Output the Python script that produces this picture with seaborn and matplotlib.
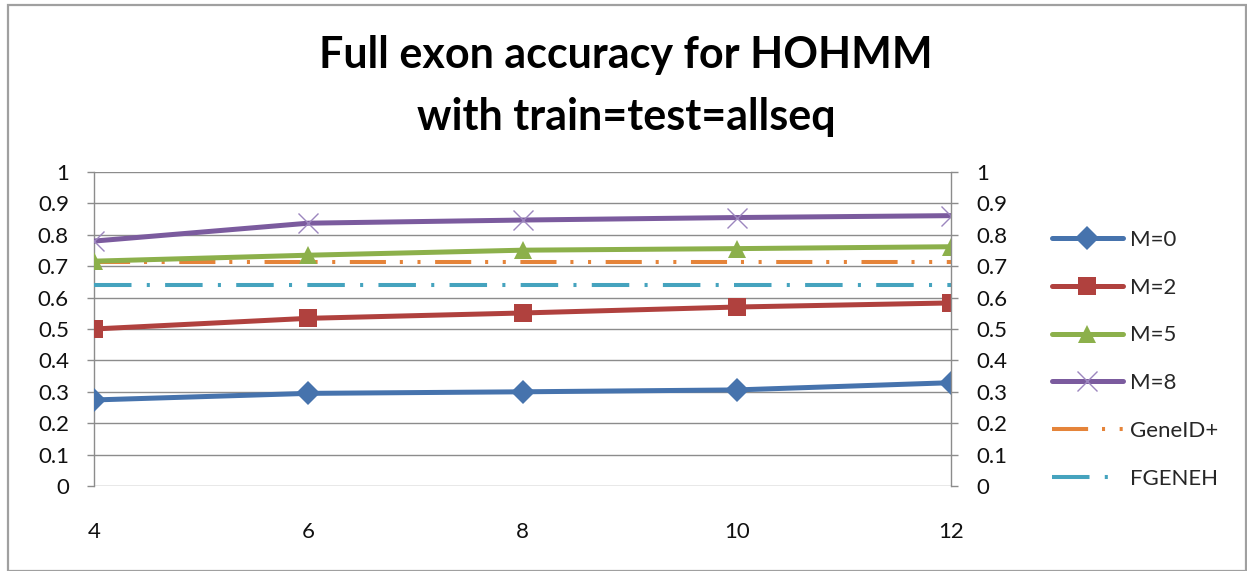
import matplotlib
matplotlib.use("Agg")
import matplotlib.pyplot as plt
import seaborn as sns
import pandas as pd
from matplotlib.patches import Rectangle

# Model order (x axis)
orders = [4, 6, 8, 10, 12]

# Full exon accuracy per memory length M
m0 = [0.274, 0.295, 0.300, 0.306, 0.329]
m2 = [0.500, 0.534, 0.551, 0.570, 0.583]
m5 = [0.716, 0.735, 0.751, 0.756, 0.762]
m8 = [0.780, 0.837, 0.847, 0.855, 0.861]

# Reference gene finders (constant across orders)
geneid_plus = [0.712, 0.712, 0.712, 0.712, 0.712]
fgeneh = [0.639, 0.639, 0.639, 0.639, 0.639]

yticks = [0, 0.1, 0.2, 0.3, 0.4, 0.5, 0.6, 0.7, 0.8, 0.9, 1]
ytick_labels = ["0", "0.1", "0.2", "0.3", "0.4", "0.5", "0.6", "0.7", "0.8", "0.9", "1"]

sns.set_theme(style="white")
plt.rcParams["font.family"] = ["Lato", "DejaVu Sans"]
plt.rcParams["lines.scale_dashes"] = False

fig = plt.figure(figsize=(12.47, 5.71), dpi=100)
ax = fig.add_axes([94 / 1247, 1 - 486 / 571, (951 - 94) / 1247, (486 - 172) / 571])

df = pd.DataFrame({"order": orders})

series = [
    ("M=0", m0, "#4673AD", "D", 12, dict()),
    ("M=2", m2, "#B0413E", "s", 13, dict()),
    ("M=5", m5, "#8CB04B", "^", 13, dict()),
    ("M=8", m8, "#7B5B9E", "x", 14, dict(markeredgewidth=1.0, markeredgecolor="#9C86BE")),
]

for name, vals, color, marker, ms, extra in series:
    d = df.assign(value=vals)
    sns.lineplot(data=d, x="order", y="value", ax=ax, color=color, linewidth=3.6,
                 marker=marker, markersize=ms, markeredgewidth=extra.get("markeredgewidth", 0),
                 markeredgecolor=extra.get("markeredgecolor", color),
                 label=name, zorder=4)

# dash patterns in points: long dash dot dot / long dash dot
sns.lineplot(data=df.assign(value=geneid_plus), x="order", y="value", ax=ax,
             color="#E5843A", linewidth=2.9, label="GeneID+",
             linestyle=(0, (26, 10, 2.2, 10.5, 2.2, 10.5)), dash_capstyle="butt", zorder=3)
sns.lineplot(data=df.assign(value=fgeneh), x="order", y="value", ax=ax,
             color="#45A3BE", linewidth=2.9, label="FGENEH",
             linestyle=(0, (27, 11, 2.2, 11)), dash_capstyle="butt", zorder=3)

ax.set_xlim(4, 12)
ax.set_ylim(0, 1)
ax.set_xticks(orders)
ax.set_xticklabels([str(o) for o in orders])
ax.set_yticks(yticks)
ax.set_yticklabels(ytick_labels)
ax.set_xlabel("")
ax.set_ylabel("")
ax.grid(axis="y", color="#8C8C8C", linewidth=1.0)
ax.grid(axis="x", visible=False)
for side in ["top", "right", "bottom"]:
    ax.spines[side].set_visible(False)
ax.spines["left"].set_color("#8C8C8C")
ax.spines["left"].set_linewidth(1.0)
ax.tick_params(axis="y", which="major", length=5, width=1.0, color="#8C8C8C",
               direction="out", pad=13, labelsize=16, labelcolor="#111111", left=True)
ax.tick_params(axis="x", which="major", length=0, pad=26, labelsize=16, labelcolor="#111111")
# small tick marks below the axis at every other category
ax.set_xticks([4, 8, 12], minor=True)
ax.tick_params(axis="x", which="minor", length=6, width=1.0, color="#8C8C8C",
               direction="out", bottom=True)

ax2 = ax.twinx()
ax2.set_ylim(0, 1)
ax2.set_yticks(yticks)
ax2.set_yticklabels(ytick_labels)
for side in ["top", "left", "bottom"]:
    ax2.spines[side].set_visible(False)
ax2.spines["right"].set_color("#8C8C8C")
ax2.spines["right"].set_linewidth(1.0)
ax2.tick_params(axis="y", length=5, width=1.0, color="#8C8C8C", direction="out",
                pad=13, labelsize=16, labelcolor="#111111", right=True)
ax2.grid(False)

handles, labels = ax.get_legend_handles_labels()
ax.legend(handles, labels, loc="upper left", bbox_to_anchor=(1043 / 1247, 1 - 221 / 571),
          bbox_transform=fig.transFigure, frameon=False, fontsize=16,
          handlelength=3.2, handletextpad=0.3, labelspacing=1.25, borderaxespad=0)

fig.text(626 / 1247, 1 - 86 / 571, "Full exon accuracy for HOHMM\nwith train=test=allseq",
         ha="center", va="center", fontsize=31, fontweight="bold", color="#000000",
         linespacing=1.68)

# chart frame
fig.patches.append(Rectangle((7.5 / 1247, 0.5 / 571), 1238 / 1247, 566 / 571,
                             transform=fig.transFigure, fill=False,
                             edgecolor="#A0A0A0", linewidth=1.6))

fig.savefig("out.png", dpi=100)
